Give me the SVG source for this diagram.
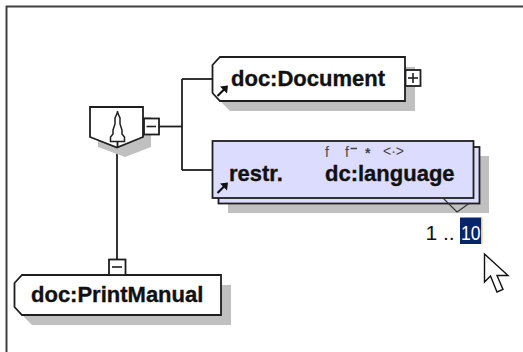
<svg xmlns="http://www.w3.org/2000/svg" width="523" height="352" viewBox="0 0 523 352">
<style>
.frame{fill:none;stroke:#404040;stroke-width:2}
.box{fill:#fff;stroke:#1e1e1e;stroke-width:1.8}
.rbox{fill:#dcdcff;stroke:#1e1e1e;stroke-width:1.8}
.shadow{fill:#c0c0c0;stroke:none}
.conn{fill:none;stroke:#1e1e1e;stroke-width:1.8}
.lbl{font-family:"Liberation Sans",Arial,sans-serif;font-weight:bold;font-size:22px;fill:#111;stroke:#111;stroke-width:0.35}
.facet{font-family:"Liberation Sans",Arial,sans-serif;font-size:14px;fill:#444}
.occ{font-family:"Liberation Sans",Arial,sans-serif;font-size:21px;fill:#111}
.sign{stroke:#1e1e1e;stroke-width:1.6}
</style>
<defs>
<g id="refarrow">
<line x1="0" y1="0" x2="8" y2="-8" stroke="#111" stroke-width="2.2"/>
<polygon points="10.5,-10.5 2.5,-9.5 9.5,-2.5" fill="#111"/>
</g>
</defs>
<path class="frame" d="M6.5,352 V6.5 H523"/>

<g id="connectors">
<line class="conn" x1="159" y1="126.5" x2="182" y2="126.5"/>
<line class="conn" x1="182" y1="79" x2="182" y2="170"/>
<line class="conn" x1="182" y1="79" x2="212" y2="79"/>
<line class="conn" x1="182" y1="170" x2="212" y2="170"/>
<line class="conn" x1="117" y1="147" x2="117" y2="259.5"/>
</g>

<g id="sequence">
<path class="shadow" d="M98,117 H151 V147 L125,157 L98,147 Z"/>
<path class="box" d="M90,107 H143 V137 L117,147.5 L90,137 Z"/>
<line x1="117.5" y1="111" x2="117.5" y2="147" stroke="#1e1e1e" stroke-width="1.5"/>
<path d="M117.5,112.5 L115,118 V124 L113,130 V134 L110.5,137 V141.5 H124.5 V137 L122,134 V130 L120,124 V118 Z" fill="#fff" stroke="#1e1e1e" stroke-width="1.5"/>
<line x1="117.5" y1="141.5" x2="117.5" y2="147" stroke="#1e1e1e" stroke-width="1.5"/>
<rect class="box" x="144" y="118.5" width="15" height="16"/>
<line class="sign" x1="146.5" y1="126.5" x2="156" y2="126.5"/>
</g>

<g id="doc-Document">
<path class="shadow" d="M230,67 H415 V111 H230 L222,103 V75 Z"/>
<path class="box" d="M220,57 H405 V101 H220 L212.5,93 V65 Z"/>
<text class="lbl" x="231" y="85.5">doc:Document</text>
<use href="#refarrow" x="217.5" y="96"/>
<rect class="box" x="405.5" y="70" width="15" height="16"/>
<line class="sign" x1="408" y1="78" x2="418" y2="78"/>
<line class="sign" x1="413" y1="73" x2="413" y2="83"/>
</g>

<g id="dc-language">
<rect class="shadow" x="228" y="156" width="261" height="57"/>
<rect class="rbox" x="218.5" y="147" width="261" height="56.5"/>
<rect class="rbox" x="212.5" y="141" width="261" height="57"/>
<polyline points="443,198 457,212 469,203.5" fill="none" stroke="#333" stroke-width="1.2"/>
<text class="facet" x="325" y="157">f</text>
<text class="facet" x="345" y="157">f</text>
<line x1="350.5" y1="148.5" x2="357" y2="148.5" stroke="#444" stroke-width="1.5"/>
<text class="facet" x="365" y="157.5" font-weight="bold">*</text>
<text class="facet" x="383" y="155.5" font-size="11">&lt;·&gt;</text>
<text class="lbl" x="229" y="180.5">restr.</text>
<text class="lbl" x="325" y="180.5">dc:language</text>
<use href="#refarrow" x="217.5" y="193"/>
</g>

<g id="occurrence">
<text class="occ" x="425.5" y="239.5">1 ..</text>
<rect x="460" y="217.5" width="21.5" height="26.5" fill="#0a246a"/>
<line x1="482" y1="217.5" x2="482" y2="244" stroke="#f0dc9c" stroke-width="1.5"/>
<text class="occ" x="461" y="239.5" textLength="19.5" lengthAdjust="spacingAndGlyphs" style="fill:#fff">10</text>
</g>

<g id="doc-PrintManual">
<path class="shadow" d="M32,285 H231 V325 H32 L24,317 V293 Z"/>
<path class="box" d="M22,275 H221 V315 H22 L14.5,307 V283 Z"/>
<text class="lbl" x="31" y="301.5">doc:PrintManual</text>
<rect class="box" x="109" y="259.5" width="16.5" height="15.5"/>
<line class="sign" x1="112" y1="267" x2="122" y2="267"/>
</g>

<g id="cursor">
<path d="M484.5,254 V282 L490.5,276 L497,292 L503,289.5 L497,275.5 H508 Z" fill="#fff" stroke="#111" stroke-width="1.4" stroke-linejoin="miter"/>
</g>
</svg>
